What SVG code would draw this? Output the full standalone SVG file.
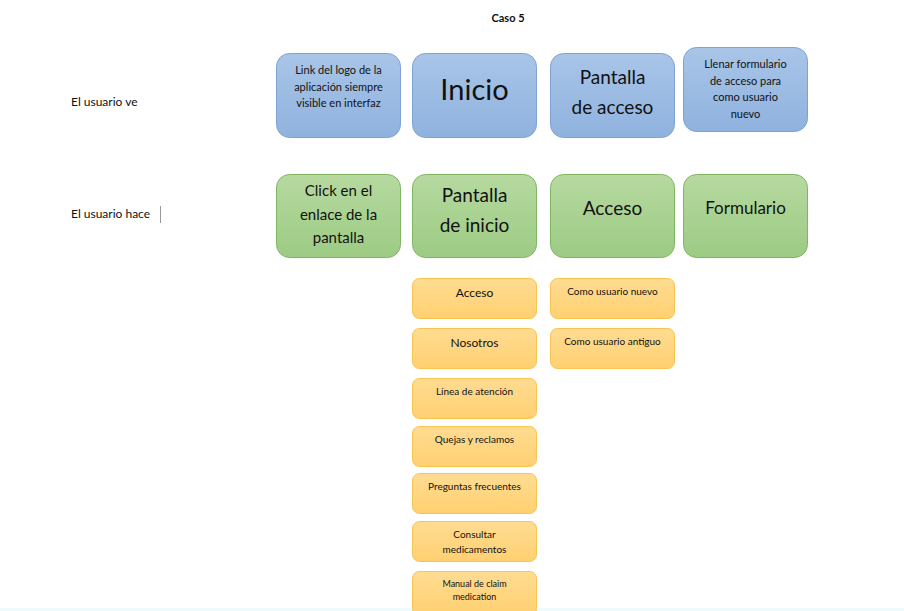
<svg xmlns="http://www.w3.org/2000/svg" width="904" height="611" viewBox="0 0 904 611">
<defs>
<linearGradient id="gb" x1="0" y1="0" x2="0" y2="1"><stop offset="0" stop-color="#a9c5e8"/><stop offset="1" stop-color="#8fb2de"/></linearGradient>
<linearGradient id="gg" x1="0" y1="0" x2="0" y2="1"><stop offset="0" stop-color="#b6d9a0"/><stop offset="1" stop-color="#9ccb83"/></linearGradient>
<linearGradient id="gy" x1="0" y1="0" x2="0" y2="1"><stop offset="0" stop-color="#ffdc92"/><stop offset="1" stop-color="#ffd071"/></linearGradient>
</defs>
<style>
text{font-family:Lato,"Open Sans","Liberation Sans",sans-serif;fill:#111;text-anchor:middle}
.lbl{text-anchor:start;font-size:12px}
.b{fill:url(#gb);stroke:#7ea3d2;stroke-width:1}
.g{fill:url(#gg);stroke:#80b563;stroke-width:1}
.y{fill:url(#gy);stroke:#f6c44f;stroke-width:1}
.s11{font-size:11px}
.s10{font-size:10px}
.s9{font-size:9px}
</style>
<rect width="904" height="611" fill="#ffffff"/>
<rect x="0" y="608" width="904" height="3" fill="#effafd"/>
<text x="508" y="22" style="font-size:11px;font-weight:bold">Caso 5</text>
<text class="lbl" x="71" y="106">El usuario ve</text>
<text class="lbl" x="71" y="218">El usuario hace</text>
<line x1="160.5" y1="206" x2="160.5" y2="223" stroke="#999" stroke-width="1"/>

<g id="ve-link"><rect class="b" x="276.5" y="53.5" width="124" height="84" rx="13"/>
<text class="s11" x="338.5" y="74">Link del logo de la</text>
<text class="s11" x="338.5" y="90.5">aplicación siempre</text>
<text class="s11" x="338.5" y="107">visible en interfaz</text></g>
<g id="ve-inicio"><rect class="b" x="412.5" y="53.5" width="124" height="84" rx="13"/>
<text x="474.5" y="100" style="font-size:29px">Inicio</text></g>
<g id="ve-pantalla"><rect class="b" x="550.5" y="53.5" width="124" height="84" rx="13"/>
<text x="612.5" y="84" style="font-size:19px">Pantalla</text>
<text x="612.5" y="114" style="font-size:19px">de acceso</text></g>
<g id="ve-llenar"><rect class="b" x="683.5" y="47.5" width="124" height="84" rx="13"/>
<text class="s11" x="745.5" y="68">Llenar formulario</text>
<text class="s11" x="745.5" y="84.5">de acceso para</text>
<text class="s11" x="745.5" y="101">como usuario</text>
<text class="s11" x="745.5" y="117.5">nuevo</text></g>

<g id="hace-click"><rect class="g" x="276.5" y="174.5" width="124" height="83" rx="13"/>
<text x="338.5" y="196" style="font-size:15px">Click en el</text>
<text x="338.5" y="220" style="font-size:15px">enlace de la</text>
<text x="338.5" y="243" style="font-size:15px">pantalla</text></g>
<g id="hace-pantalla"><rect class="g" x="412.5" y="174.5" width="124" height="83" rx="13"/>
<text x="474.5" y="202" style="font-size:19px">Pantalla</text>
<text x="474.5" y="232" style="font-size:19px">de inicio</text></g>
<g id="hace-acceso"><rect class="g" x="550.5" y="174.5" width="124" height="83" rx="13"/>
<text x="612.5" y="215" style="font-size:19px">Acceso</text></g>
<g id="hace-formulario"><rect class="g" x="683.5" y="174.5" width="124" height="83" rx="13"/>
<text x="745.5" y="214" style="font-size:17px">Formulario</text></g>

<g id="op-acceso"><rect class="y" x="412.5" y="278.5" width="124" height="40" rx="7"/>
<text x="474.5" y="297" style="font-size:12px">Acceso</text></g>
<g id="op-nosotros"><rect class="y" x="412.5" y="328.5" width="124" height="40" rx="7"/>
<text x="474.5" y="347" style="font-size:12px">Nosotros</text></g>
<g id="op-linea"><rect class="y" x="412.5" y="378.5" width="124" height="40" rx="7"/>
<text class="s10" x="474.5" y="395">Línea de atención</text></g>
<g id="op-quejas"><rect class="y" x="412.5" y="426.5" width="124" height="40" rx="7"/>
<text class="s10" x="474.5" y="443">Quejas y reclamos</text></g>
<g id="op-preguntas"><rect class="y" x="412.5" y="473.5" width="124" height="40" rx="7"/>
<text class="s10" x="474.5" y="490">Preguntas frecuentes</text></g>
<g id="op-consultar"><rect class="y" x="412.5" y="521.5" width="124" height="40" rx="7"/>
<text class="s10" x="474.5" y="538">Consultar</text>
<text class="s10" x="474.5" y="553">medicamentos</text></g>
<g id="op-manual"><rect class="y" x="412.5" y="571.5" width="124" height="44" rx="7"/>
<text class="s9" x="474.5" y="587">Manual de claim</text>
<text class="s9" x="474.5" y="600">medication</text></g>
<g id="op-nuevo"><rect class="y" x="550.5" y="278.5" width="124" height="40" rx="7"/>
<text class="s10" x="612.5" y="295">Como usuario nuevo</text></g>
<g id="op-antiguo"><rect class="y" x="550.5" y="328.5" width="124" height="40" rx="7"/>
<text class="s10" x="612.5" y="345">Como usuario antiguo</text></g>
<g id="connectors"></g>
</svg>
